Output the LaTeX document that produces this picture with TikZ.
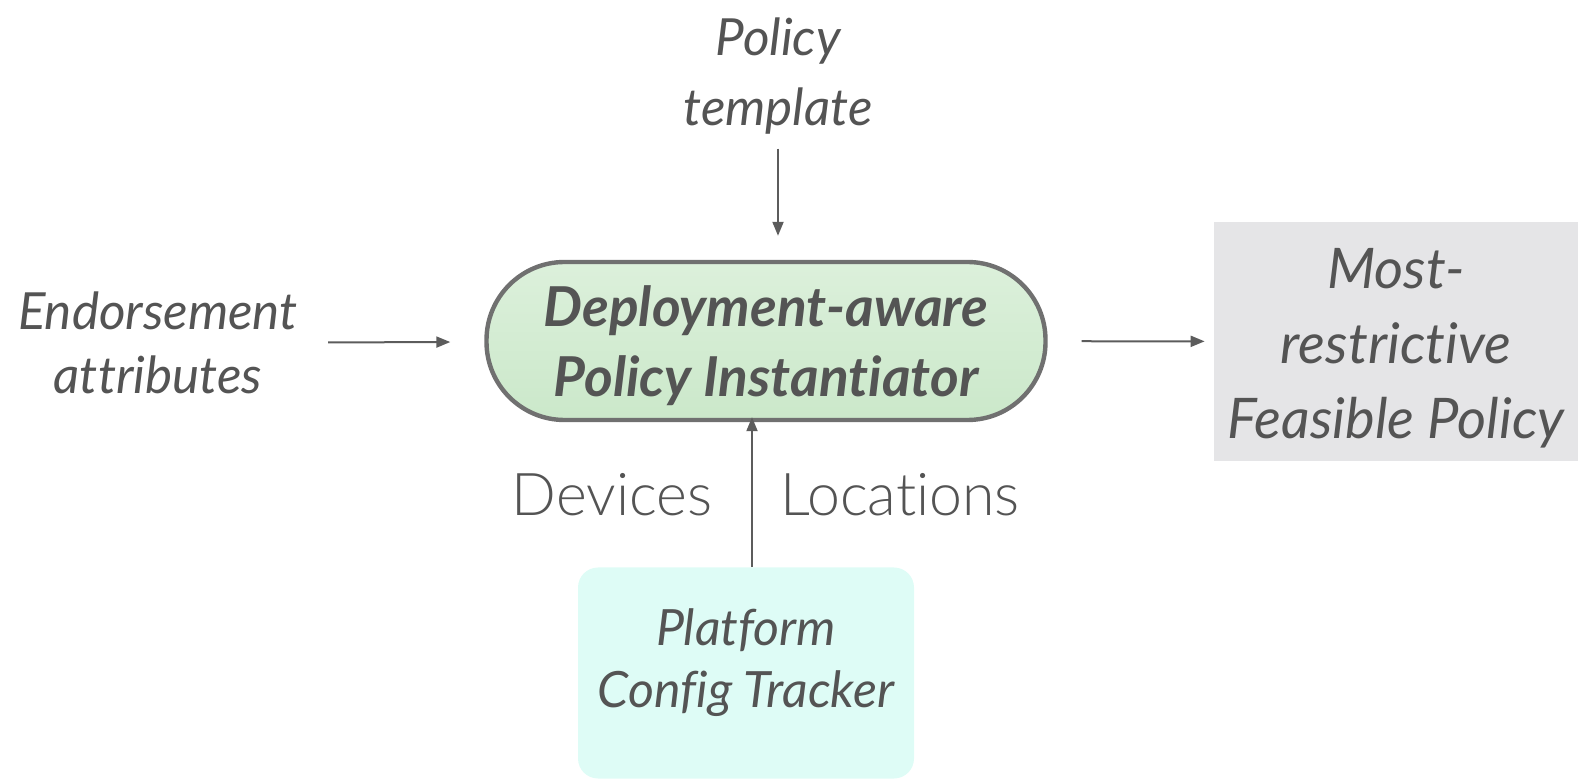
\documentclass[tikz,border=0pt]{standalone}
\usepackage{fontspec}
\setmainfont{Lato}[Ligatures=NoCommon]
\newfontfamily\lightfont{Lato Light}[Ligatures=NoCommon]
\usetikzlibrary{arrows.meta}
\definecolor{txt}{HTML}{545454}
\definecolor{wire}{HTML}{5C5C5C}
\definecolor{rim}{HTML}{707070}
\definecolor{greentop}{HTML}{DCF0DB}
\definecolor{greenbot}{HTML}{CBE8CA}
\definecolor{panel}{HTML}{E5E5E7}
\definecolor{mint}{HTML}{DEFCF6}
\begin{document}
\begin{tikzpicture}[x=0.5pt,y=-0.5pt,
  lbl/.style={text=txt, font=\fontsize{25.6}{32}\selectfont\itshape, align=center, inner sep=0pt},
  flowlbl/.style={text=txt, font=\fontsize{29.5}{34}\selectfont\lightfont, inner sep=0pt},
  core/.style={rectangle, rounded corners=39pt, minimum width=279.5pt, minimum height=79pt,
    draw=rim, line width=2.2pt, top color=greentop, bottom color=greenbot,
    text=txt, font=\fontsize{27.5}{35}\selectfont\bfseries\itshape, align=center},
  outbox/.style={rectangle, fill=panel, minimum width=182pt, minimum height=119.5pt, inner sep=0pt,
    text=txt, font=\fontsize{28}{37.5}\selectfont\itshape, align=center},
  srcbox/.style={rectangle, rounded corners=10pt, fill=mint, minimum width=168pt, minimum height=105.5pt,
    inner sep=0pt, text=txt, font=\fontsize{25}{31}\selectfont\itshape, align=center},
  conn/.style={draw=wire, line width=1pt, -{Triangle[length=7pt,width=5.5pt]}},
]
\path[use as bounding box] (0,0) rectangle (1578,779);

% central instantiator
\node[core] (pi) at (766,341) {\rule{0pt}{25pt}Deployment-aware\\Policy Instantiator};

% inputs and output
\node[lbl, font=\fontsize{25.6}{35}\selectfont\itshape] (tmpl) at (778,76) {Policy\\template};
\node[lbl] (endorse) at (158,343) {Endorsement\\attributes};
\node[outbox] (result) at (1396,341.5) {\rule{0pt}{26.5pt}Most-\\restrictive\\Feasible Policy};
\node[srcbox] (tracker) at (746,673) {Platform\\Config Tracker\rule[-15pt]{0pt}{0pt}};

% flow labels beside the tracker link
\node[flowlbl] (dev) at (612,495) {Devices};
\node[flowlbl] (loc) at (900,495) {Locations};

% connectors
\coordinate (tx) at (778,0);
\coordinate (bx) at (752,0);
\draw[conn, shorten <=7pt, shorten >=12pt] (tmpl.south -| tx) -- (pi.north -| tx);
\draw[conn, shorten <=15pt, shorten >=17pt] (endorse) -- (pi);
\draw[conn, shorten <=17pt, shorten >=4.5pt] (pi) -- (result);
\draw[conn, shorten >=-2.5pt] (tracker.north -| bx) -- (pi.south -| bx);
\end{tikzpicture}
\end{document}
